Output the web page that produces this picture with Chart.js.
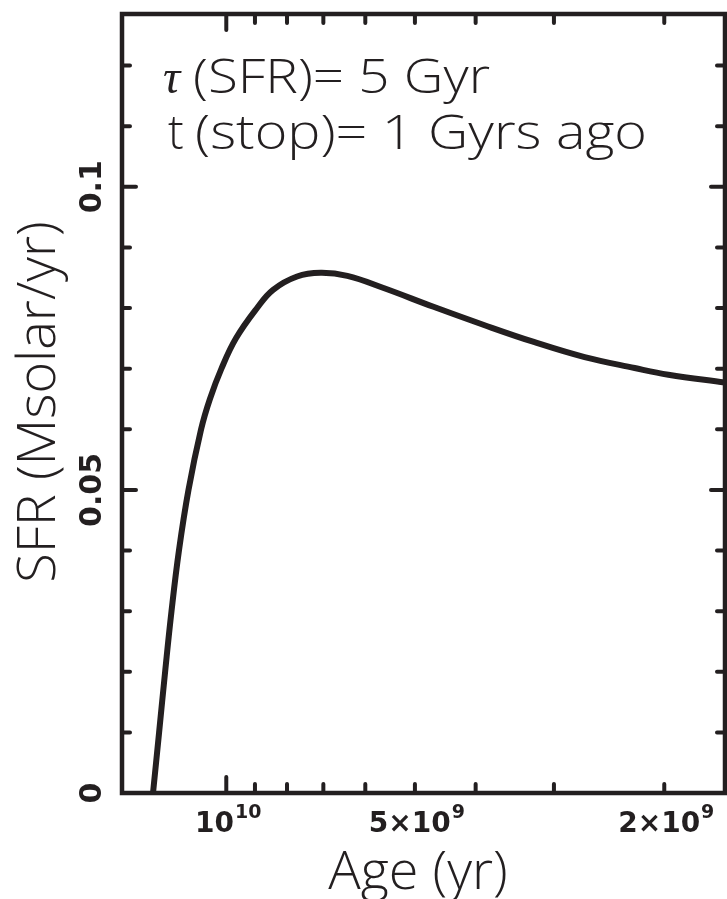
<!DOCTYPE html>
<html>
<head>
<meta charset="utf-8">
<script src="https://cdn.jsdelivr.net/npm/chart.js@4.4.1/dist/chart.umd.min.js"></script>
<style>
  html, body { margin: 0; padding: 0; background: #fff; }
  #wrap { width: 727px; height: 899px; }
</style>
</head>
<body>
<div id="wrap"><canvas id="myChart" width="727" height="899"></canvas></div>
<script>
// star formation history (age in yr, SFR in Msolar/yr)
var ageYr = [1.309e10, 1.280e10, 1.252e10, 1.223e10, 1.190e10, 1.149e10, 1.097e10, 1.062e10,
             1.018e10, 9.65e9, 8.93e9, 8.42e9, 7.71e9, 7.07e9, 6.41e9, 5.61e9,
             4.67e9, 3.88e9, 3.23e9, 2.68e9, 2.23e9, 1.97e9, 1.60e9];
var sfr = [0, 0.010, 0.020, 0.030, 0.040, 0.050, 0.060, 0.065,
           0.070, 0.075, 0.080, 0.0830, 0.0852, 0.0858, 0.0853, 0.0833,
           0.0802, 0.0772, 0.0744, 0.0719, 0.0701, 0.0690, 0.0677];

// axis ticks and labels
var xTicks = [2e9, 3e9, 4e9, 5e9, 6e9, 7e9, 8e9, 9e9, 1e10];
var xMajor = [1e10];
var xLabelValues = [1e10, 5e9, 2e9];
var xLabelBase = ['10', '5\u00d710', '2\u00d710'];
var xLabelExp = ['10', '9', '9'];
var yTicks = [0.01, 0.02, 0.03, 0.04, 0.05, 0.06, 0.07, 0.08, 0.09, 0.1, 0.11, 0.12];
var yMajor = [0.05, 0.1];
var yLabelValues = [0, 0.05, 0.1];
var yLabels = ['0', '0.05', '0.1'];

var xTitle = 'Age (yr)';
var yTitle = 'SFR (Msolar/yr)';
var noteSymbols = ['\u03c4', 't'];
var noteTexts = ['(SFR)= 5 Gyr', '(stop)= 1 Gyrs ago'];

var ink = '#231f20';
var thinFont = '"Open Sans", "Liberation Sans", sans-serif';

var points = ageYr.map(function(a, i) { return { x: a, y: sfr[i] }; });

// draws text stretched sideways so that it spans the given width
function wideText(ctx, str, x, y, width) {
    var w = ctx.measureText(str).width;
    ctx.save();
    ctx.translate(x, y);
    ctx.scale(width / w, 1);
    ctx.fillText(str, 0, 0);
    ctx.restore();
}

// frame, inward ticks, labels and texts
var decorPlugin = {
    id: 'decor',
    afterDraw: function(chart) {
        var ctx = chart.ctx;
        var area = chart.chartArea;
        var xs = chart.scales.x;
        var ys = chart.scales.y;
        ctx.save();
        ctx.strokeStyle = ink;
        ctx.fillStyle = ink;
        ctx.lineCap = 'round';
        ctx.lineWidth = 4;

        // ticks on x (bottom and top)
        xTicks.forEach(function(v) {
            var px = xs.getPixelForValue(v);
            var len = xMajor.indexOf(v) >= 0 ? 16 : 9;
            ctx.beginPath();
            ctx.moveTo(px, area.bottom);
            ctx.lineTo(px, area.bottom - len);
            ctx.moveTo(px, area.top);
            ctx.lineTo(px, area.top + len);
            ctx.stroke();
        });
        // ticks on y (left and right)
        yTicks.forEach(function(v) {
            var py = ys.getPixelForValue(v);
            var len = yMajor.indexOf(v) >= 0 ? 14 : 8;
            ctx.beginPath();
            ctx.moveTo(area.left, py);
            ctx.lineTo(area.left + len, py);
            ctx.moveTo(area.right, py);
            ctx.lineTo(area.right - len, py);
            ctx.stroke();
        });

        // frame
        ctx.lineCap = 'butt';
        ctx.lineWidth = 4.5;
        ctx.strokeRect(area.left, area.top, area.right - area.left, area.bottom - area.top);

        // x tick labels with exponent
        ctx.textBaseline = 'alphabetic';
        ctx.textAlign = 'left';
        xLabelValues.forEach(function(v, i) {
            var px = xs.getPixelForValue(v);
            ctx.font = 'bold 28px "DejaVu Sans"';
            var wb = ctx.measureText(xLabelBase[i]).width;
            ctx.font = 'bold 19px "DejaVu Sans"';
            var we = ctx.measureText(xLabelExp[i]).width;
            var x0 = px - (wb + we + 1) / 2 + 2;
            ctx.font = 'bold 28px "DejaVu Sans"';
            ctx.fillText(xLabelBase[i], x0, area.bottom + 39);
            ctx.font = 'bold 19px "DejaVu Sans"';
            ctx.fillText(xLabelExp[i], x0 + wb + 1, area.bottom + 25);
        });

        // y tick labels, rotated
        ctx.font = 'bold 30px "DejaVu Sans"';
        ctx.textAlign = 'center';
        yLabelValues.forEach(function(v, i) {
            var py = ys.getPixelForValue(v);
            ctx.save();
            ctx.translate(area.left - 21, py);
            ctx.rotate(-Math.PI / 2);
            ctx.fillText(yLabels[i], 0, 0);
            ctx.restore();
        });

        // axis titles
        ctx.font = '300 54px ' + thinFont;
        ctx.textAlign = 'center';
        ctx.fillText(xTitle, 418, 889);
        ctx.save();
        ctx.translate(55, 402);
        ctx.rotate(-Math.PI / 2);
        ctx.fillText(yTitle, 0, 0);
        ctx.restore();

        // note in the top left
        ctx.textAlign = 'left';
        ctx.font = 'italic 48px "Liberation Serif"';
        ctx.fillText(noteSymbols[0], 163, 93);
        ctx.font = '300 47px ' + thinFont;
        ctx.fillText(noteSymbols[1], 168, 149);
        wideText(ctx, noteTexts[0], 193, 93, 297);
        wideText(ctx, noteTexts[1], 195, 149, 452);

        ctx.restore();
    }
};

var myChart = new Chart(document.getElementById('myChart').getContext('2d'), {
    type: 'scatter',
    data: {
        datasets: [{
            data: points,
            showLine: true,
            borderColor: ink,
            borderWidth: 6,
            pointRadius: 0,
            tension: 0.4,
            fill: false
        }]
    },
    options: {
        responsive: false,
        animation: false,
        layout: { padding: { left: 122, top: 14, right: 2, bottom: 106 } },
        plugins: {
            legend: { display: false },
            tooltip: { enabled: false }
        },
        scales: {
            x: {
                type: 'logarithmic',
                reverse: true,
                min: 1.6e9,
                max: 1.467e10,
                display: false
            },
            y: {
                type: 'linear',
                min: 0,
                max: 0.1285,
                display: false
            }
        }
    },
    plugins: [decorPlugin]
});
</script>
</body>
</html>
